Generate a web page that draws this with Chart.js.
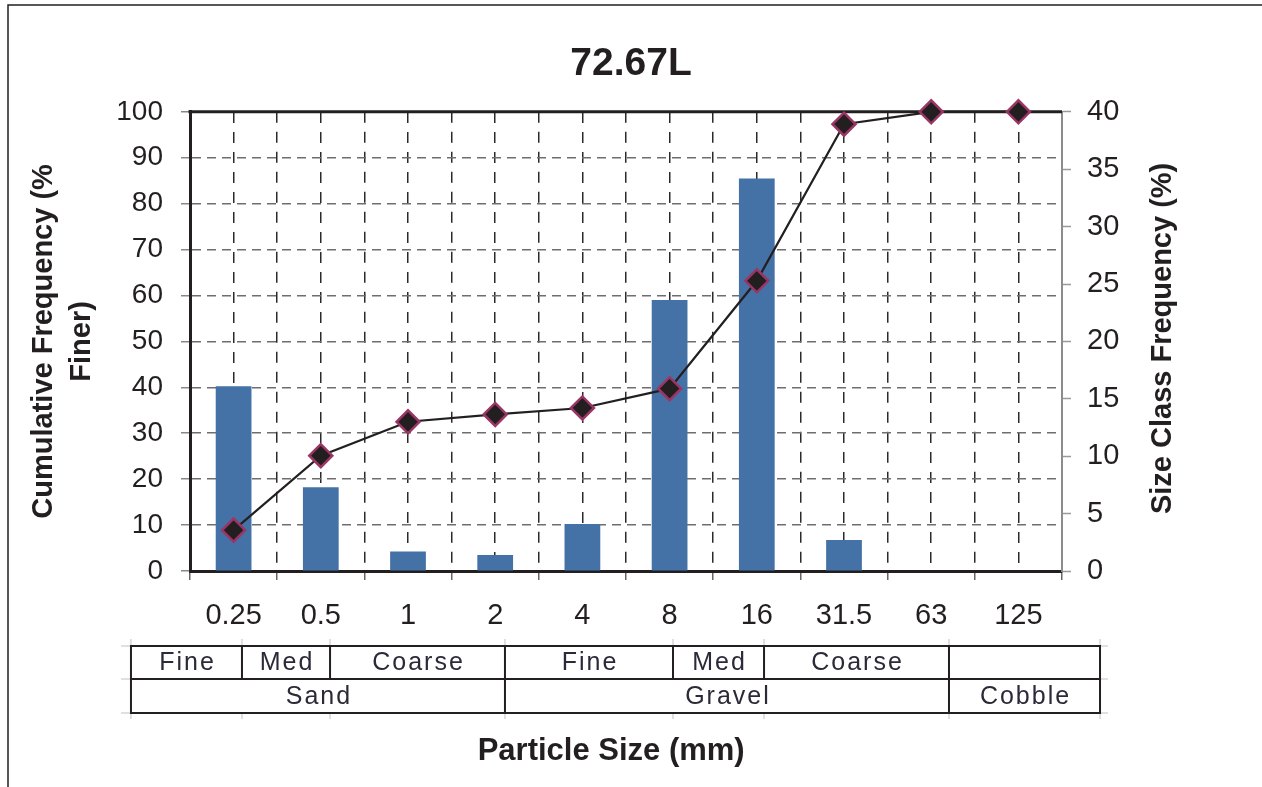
<!DOCTYPE html>
<html>
<head>
<meta charset="utf-8">
<script src="https://cdn.jsdelivr.net/npm/chart.js@4.4.1/dist/chart.umd.min.js"></script>
<style>
    html, body { margin: 0; padding: 0; background: #fff; }
</style>
</head>
<body>
<canvas id="grain_chart" width="1262" height="787"></canvas>
<script>
// Particle size classes (mm) along the bottom axis.
var sizeLabels = ['0.25', '0.5', '1', '2', '4', '8', '16', '31.5', '63', '125'];

// Size class frequency (%), right axis, drawn as bars.
var classFreq = [16.1, 7.3, 1.7, 1.4, 4.1, 23.6, 34.2, 2.7, 0, 0];

// Cumulative frequency (% finer), left axis, drawn as a line.
var cumFiner = [8.9, 25.1, 32.5, 34.1, 35.5, 39.7, 63.2, 97.3, 100, 100];

// Text of the classification table under the axis.
var classRow = ['Fine', 'Med', 'Coarse', 'Fine', 'Med', 'Coarse', ''];
var groupRow = ['Sand', 'Gravel', 'Cobble'];

var FONT = "'Liberation Sans', Arial, sans-serif";
var INK = '#231f20';

// Draws the plot frame top/right edges, the outer page frame, the
// right and bottom axis titles and the sand / gravel / cobble table.
var extras = {
    id: 'extras',
    beforeDatasetsDraw: function(chart) {
        var ctx = chart.ctx;
        var a = chart.chartArea;
        ctx.save();
        ctx.strokeStyle = '#8c8c8c';
        ctx.lineWidth = 2;
        ctx.beginPath();
        ctx.moveTo(a.right, a.top);
        ctx.lineTo(a.right, a.bottom);
        ctx.stroke();
        ctx.strokeStyle = INK;
        ctx.lineWidth = 3;
        ctx.beginPath();
        ctx.moveTo(a.left - 1.5, a.top);
        ctx.lineTo(a.right, a.top);
        ctx.stroke();
        ctx.restore();
    },
    afterDraw: function(chart) {
        var ctx = chart.ctx;
        var a = chart.chartArea;
        var x = chart.scales.x;

        // Cell edges, in category index units of the x scale.
        var classEdges = [-1.177, 0.096, 1.106, 3.112, 5.039, 6.083, 8.204, 9.936];
        var groupEdges = [-1.177, 3.112, 8.204, 9.936];
        var px = function(v) { return x.getPixelForValue(v); };

        var yTop = a.bottom + 75;
        var yMid = a.bottom + 108;
        var yBot = a.bottom + 142;

        ctx.save();

        // Faint stubs round the table.
        ctx.strokeStyle = '#d3d5e0';
        ctx.lineWidth = 1.5;
        ctx.beginPath();
        classEdges.forEach(function(e) {
            ctx.moveTo(px(e), yTop - 7); ctx.lineTo(px(e), yTop);
            ctx.moveTo(px(e), yBot); ctx.lineTo(px(e), yBot + 6);
        });
        [yTop, yMid, yBot].forEach(function(y) {
            ctx.moveTo(px(classEdges[0]) - 10, y); ctx.lineTo(px(classEdges[0]), y);
            ctx.moveTo(px(classEdges[7]), y); ctx.lineTo(px(classEdges[7]) + 8, y);
        });
        ctx.stroke();

        // Table lines.
        ctx.strokeStyle = INK;
        ctx.lineWidth = 2;
        ctx.strokeRect(px(classEdges[0]), yTop, px(classEdges[7]) - px(classEdges[0]), yBot - yTop);
        ctx.beginPath();
        ctx.moveTo(px(classEdges[0]), yMid);
        ctx.lineTo(px(classEdges[7]), yMid);
        for (var i = 1; i < classEdges.length - 1; i++) {
            ctx.moveTo(px(classEdges[i]), yTop);
            ctx.lineTo(px(classEdges[i]), yMid);
        }
        for (var j = 1; j < groupEdges.length - 1; j++) {
            ctx.moveTo(px(groupEdges[j]), yMid);
            ctx.lineTo(px(groupEdges[j]), yBot);
        }
        ctx.stroke();

        // Table text.
        ctx.fillStyle = '#2b2a38';
        ctx.font = '25px ' + FONT;
        ctx.letterSpacing = '2px';
        ctx.textAlign = 'center';
        ctx.textBaseline = 'middle';
        classRow.forEach(function(t, k) {
            var cx = (px(classEdges[k]) + px(classEdges[k + 1])) / 2 + 1;
            ctx.fillText(t, cx, (yTop + yMid) / 2 + 1);
        });
        groupRow.forEach(function(t, k) {
            var cx = (px(groupEdges[k]) + px(groupEdges[k + 1])) / 2 + 1;
            ctx.fillText(t, cx, (yMid + yBot) / 2 + 1);
        });
        ctx.letterSpacing = '0px';

        // Bottom axis title.
        ctx.fillStyle = INK;
        ctx.font = 'bold 31px ' + FONT;
        ctx.fillText('Particle Size (mm)', a.left + (a.right - a.left) * 0.483, chart.height - 36);

        // Right axis title, reading bottom to top.
        ctx.save();
        ctx.translate(chart.scales.y2.right - 99, (a.top + a.bottom) / 2 - 3);
        ctx.rotate(-Math.PI / 2);
        ctx.font = 'bold 29px ' + FONT;
        ctx.fillText('Size Class Frequency (%)', 0, 0);
        ctx.restore();

        // Page frame, top and left.
        ctx.strokeStyle = INK;
        ctx.lineWidth = 1.5;
        ctx.beginPath();
        ctx.moveTo(8, chart.height);
        ctx.lineTo(8, 5);
        ctx.lineTo(chart.width, 5);
        ctx.stroke();

        ctx.restore();
    }
};

function make_chart() {
    new Chart(document.getElementById('grain_chart'), {
        type: 'bar',
        data: {
            labels: sizeLabels,
            datasets: [
                {
                    // Cumulative curve on top of the bars.
                    type: 'line',
                    label: 'Cumulative Frequency',
                    data: cumFiner,
                    yAxisID: 'y',
                    order: 0,
                    borderColor: INK,
                    borderWidth: 2.2,
                    tension: 0,
                    clip: false,
                    pointStyle: 'rectRot',
                    pointRadius: 11.5,
                    pointHoverRadius: 11.5,
                    pointBorderWidth: 2.5,
                    pointBackgroundColor: INK,
                    pointBorderColor: '#9b3565'
                },
                {
                    label: 'Size Class Frequency',
                    data: classFreq,
                    yAxisID: 'y2',
                    order: 1,
                    backgroundColor: '#4472a7',
                    barPercentage: 0.41,
                    categoryPercentage: 1.0
                }
            ]
        },
        options: {
            responsive: false,
            animation: false,
            layout: { padding: 0 },
            plugins: {
                legend: { display: false },
                tooltip: { enabled: false },
                title: {
                    display: true,
                    text: '72.67L',
                    color: INK,
                    font: { family: FONT, size: 39, weight: 'bold' },
                    padding: { top: 41, bottom: 24 }
                }
            },
            scales: {
                // Gridlines at the class boundaries, labels at the centres.
                x: {
                    position: 'bottom',
                    offset: true,
                    afterFit: function(scale) { scale.height = 216; },
                    grid: {
                        offset: true,
                        color: '#2a2a2a',
                        lineWidth: 1.5,
                        tickColor: '#666',
                        tickLength: 9,
                        tickWidth: 1.5
                    },
                    border: { color: INK, width: 3, dash: [11, 9] },
                    ticks: {
                        color: INK,
                        padding: 19,
                        font: { family: FONT, size: 29 }
                    }
                },
                // Extra axis for the gridlines through the class centres.
                xc: {
                    position: 'top',
                    offset: true,
                    afterFit: function(scale) { scale.height = 0; },
                    grid: {
                        offset: false,
                        color: '#2a2a2a',
                        lineWidth: 1.5,
                        drawTicks: false
                    },
                    border: { display: false, dash: [11, 9] },
                    ticks: { display: false }
                },
                y: {
                    position: 'left',
                    min: 0,
                    max: 100,
                    afterFit: function(scale) { scale.width = 190; },
                    grid: {
                        color: '#6e6e6e',
                        lineWidth: 1.5,
                        tickColor: '#888',
                        tickLength: 9,
                        tickWidth: 1.5
                    },
                    border: { color: INK, width: 3, dash: [9, 6] },
                    ticks: {
                        stepSize: 10,
                        color: INK,
                        padding: 18,
                        font: { family: FONT, size: 28 }
                    },
                    title: {
                        display: true,
                        text: ['Cumulative Frequency (%', 'Finer)'],
                        color: INK,
                        font: { family: FONT, size: 29, weight: 'bold', lineHeight: 1.3 },
                        padding: { top: 25, bottom: 0 }
                    }
                },
                y2: {
                    position: 'right',
                    min: 0,
                    max: 40,
                    afterFit: function(scale) { scale.width = 200; },
                    grid: {
                        drawOnChartArea: false,
                        tickColor: '#999',
                        tickLength: 9,
                        tickWidth: 1.5
                    },
                    border: { color: '#8c8c8c', width: 2 },
                    ticks: {
                        stepSize: 5,
                        color: INK,
                        padding: 16,
                        font: { family: FONT, size: 29 }
                    }
                }
            }
        },
        plugins: [extras]
    });
}

make_chart();
</script>
</body>
</html>
